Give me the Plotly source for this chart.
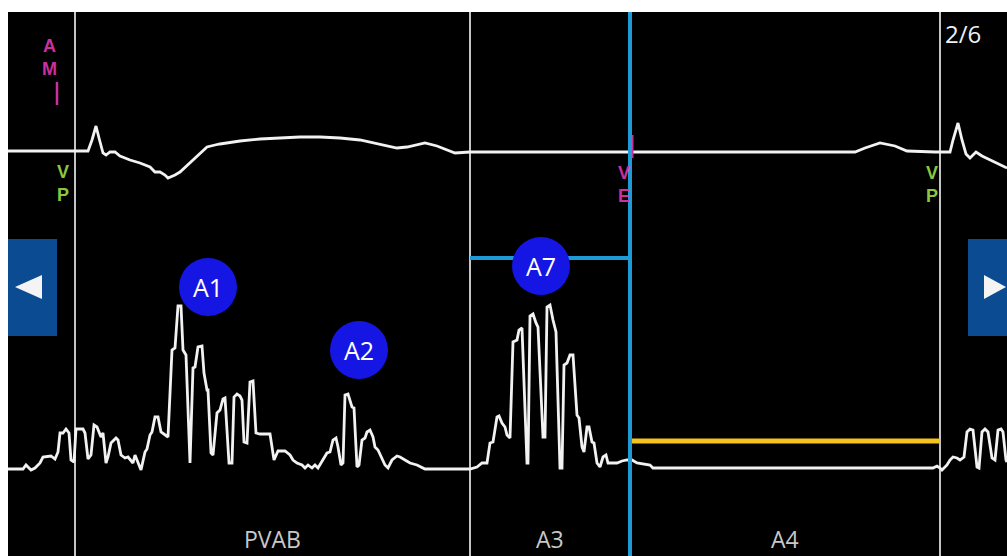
import plotly.graph_objects as go

# ---------------- data (time axis in screen-time units, amplitude in screen units, reversed axis) -------------
vent_time = [8, 75, 88, 92, 96, 99, 103, 106, 110, 115, 120, 130, 140, 150, 155, 160, 165, 168, 175, 180,
             190, 200, 207, 215, 220, 240, 260, 280, 300, 320, 340, 360, 380, 397, 407, 425, 437, 455, 470,
             630, 855, 865, 880, 895, 907, 935, 950, 953, 958, 962, 966, 970, 976, 982, 995, 1007]
vent_amp = [151, 151, 151, 140, 126, 138, 153, 155, 152, 152, 156, 160, 163, 167, 172, 172, 175, 178, 175, 172,
            163, 154, 147, 145, 144, 141, 139, 138, 137, 137, 138, 140, 144, 148, 147, 143, 146, 153, 152,
            152, 152, 148, 143, 146, 151, 152, 152, 140, 123, 140, 154, 158, 152, 156, 162, 168]

atrial_time = [8, 23, 26, 31, 35, 40, 43, 51, 55, 58, 60, 63, 66, 69, 71, 74, 76, 83, 85, 88, 91, 94, 97, 101,
               103, 106, 108, 111, 116, 118, 121, 125, 128, 133, 135, 138, 141, 145, 147, 150, 152, 155, 158,
               161, 165, 168, 172, 175, 178, 181, 183, 186, 190, 193, 195, 198, 202, 204, 207, 208, 211, 213,
               217, 220, 223, 225, 229, 232, 234, 237, 240, 242, 244, 247, 250, 253, 256, 260, 270, 274, 278,
               285, 290, 293, 297, 302, 305, 308, 312, 315, 318, 323, 327, 330, 333, 336, 338, 341, 343, 345,
               348, 352, 354, 357, 359, 362, 365, 367, 370, 373, 375, 378, 382, 385, 388, 392, 397, 400, 405,
               410, 417, 422, 425, 470, 477, 482, 487, 490, 493, 497, 499, 502, 505, 507, 510, 513, 517, 519,
               522, 527, 528, 530, 533, 536, 538, 543, 545, 547, 550, 553, 556, 560, 562, 564, 567, 570, 573,
               577, 579, 582, 584, 587, 589, 592, 594, 597, 600, 603, 606, 608, 612, 617, 622, 627, 632, 637,
               650, 653, 933, 937, 940, 942, 947, 950, 953, 957, 960, 964, 967, 970, 973, 977, 979, 982, 985,
               988, 992, 995, 998, 1001, 1003, 1006, 1007]
atrial_amp = [469, 469, 465, 470, 468, 463, 457, 456, 459, 452, 433, 433, 429, 433, 460, 462, 429, 429, 433, 459,
              455, 425, 427, 437, 433, 463, 457, 443, 438, 440, 455, 458, 457, 463, 455, 463, 470, 452, 449,
              435, 432, 417, 417, 432, 435, 437, 350, 348, 306, 306, 350, 355, 463, 368, 367, 347, 346, 373,
              390, 390, 453, 455, 413, 410, 399, 398, 463, 463, 397, 394, 396, 400, 442, 443, 382, 381, 433,
              434, 434, 460, 451, 451, 455, 460, 463, 465, 468, 465, 468, 465, 468, 460, 453, 452, 440, 438,
              447, 465, 463, 395, 394, 407, 408, 467, 465, 440, 438, 432, 430, 437, 447, 450, 458, 465, 468,
              460, 456, 457, 460, 463, 465, 467, 469, 469, 467, 463, 463, 443, 442, 417, 416, 423, 427, 435,
              438, 342, 340, 330, 328, 463, 463, 316, 314, 323, 327, 437, 437, 307, 305, 320, 332, 468, 468,
              365, 363, 355, 355, 415, 418, 447, 452, 427, 427, 442, 443, 463, 467, 457, 455, 463, 463, 463,
              461, 460, 460, 463, 465, 468, 468, 466, 468, 470, 465, 460, 457, 458, 460, 457, 432, 429, 430,
              467, 468, 432, 429, 432, 458, 460, 430, 429, 432, 460, 462]

interval_bounds = [75, 470, 940]          # grey vertical separators
event_time = 630                          # blue VE cursor
upper_bar = [470, 630, 258]               # blue horizontal bar: start, end, level
yellow_bar = [632, 940, 441]              # yellow interval bar: start, end, level

bubble_labels = ["A1", "A2", "A7"]
bubble_time = [208, 359, 541]
bubble_amp = [287, 350, 266]

interval_labels = ["PVAB", "A3", "A4"]
interval_label_time = [272, 550, 785]

marker_labels = ["A<br>M", "V<br>P", "V<br>E", "V<br>P"]
marker_time = [49, 63, 624, 932]
marker_amp = [57, 183, 184, 184]
marker_colors = ["#cc2f9e", "#8cc63e", "#cc2f9e", "#8cc63e"]

page_label = "2/6"

fig = go.Figure()

# grey separators
for xv in interval_bounds:
    fig.add_shape(type="line", x0=xv, x1=xv, y0=0, y1=1, xref="x", yref="paper",
                  line=dict(color="#c4c4c4", width=2), layer="below")

# blue & yellow bars
fig.add_shape(type="line", x0=upper_bar[0], x1=upper_bar[1], y0=upper_bar[2], y1=upper_bar[2],
              xref="x", yref="y", line=dict(color="#1e9bd7", width=4))
fig.add_shape(type="line", x0=yellow_bar[0], x1=yellow_bar[1], y0=yellow_bar[2], y1=yellow_bar[2],
              xref="x", yref="y", line=dict(color="#f6c21c", width=5))

# magenta tick marks
fig.add_shape(type="line", x0=57, x1=57, y0=82, y1=105, xref="x", yref="y",
              line=dict(color="#cc2f9e", width=2.5))
fig.add_shape(type="line", x0=632, x1=632, y0=135, y1=158, xref="x", yref="y",
              line=dict(color="#cc2f9e", width=3))

# traces
fig.add_trace(go.Scatter(x=vent_time, y=vent_amp, mode="lines",
                         line=dict(color="#f2f2f2", width=2.8), showlegend=False, hoverinfo="skip"))
fig.add_trace(go.Scatter(x=atrial_time, y=atrial_amp, mode="lines",
                         line=dict(color="#f2f2f2", width=2.8), showlegend=False, hoverinfo="skip"))

# blue VE cursor on top
fig.add_shape(type="line", x0=event_time, x1=event_time, y0=0, y1=1, xref="x", yref="paper",
              line=dict(color="#1e9bd7", width=4))

# navigation buttons
fig.add_shape(type="rect", x0=8, x1=57, y0=239, y1=336, xref="x", yref="y",
              fillcolor="#0b4b92", line=dict(width=0))
fig.add_shape(type="path", path="M 15 287 L 42 275 L 42 299 Z", xref="x", yref="y",
              fillcolor="#f4f4f4", line=dict(width=0))
fig.add_shape(type="rect", x0=968, x1=1010, y0=239, y1=336, xref="x", yref="y",
              fillcolor="#0b4b92", line=dict(width=0))
fig.add_shape(type="path", path="M 984 275 L 1006 287 L 984 299 Z", xref="x", yref="y",
              fillcolor="#f4f4f4", line=dict(width=0))

# bubbles
r = 29
for lab, bx, by in zip(bubble_labels, bubble_time, bubble_amp):
    fig.add_shape(type="circle", x0=bx - r, x1=bx + r, y0=by - r, y1=by + r, xref="x", yref="y",
                  fillcolor="#1616e4", line=dict(width=0))
    fig.add_annotation(x=bx, y=by, text=lab, showarrow=False, xref="x", yref="y",
                       font=dict(family="Open Sans", size=25, color="#ffffff"))

# interval labels
for lab, lx in zip(interval_labels, interval_label_time):
    fig.add_annotation(x=lx, y=539, text=lab, showarrow=False, xref="x", yref="y",
                       font=dict(family="Open Sans", size=23, color="#c8c8c8"))

# marker letters (stacked two-letter codes)
for lab, mx, my, mc in zip(marker_labels, marker_time, marker_amp, marker_colors):
    fig.add_annotation(x=mx, y=my, text="<b>" + lab + "</b>", showarrow=False, xref="x", yref="y",
                       font=dict(family="Liberation Sans", size=18, color=mc))

fig.add_annotation(x=963, y=33, text=page_label, showarrow=False, xref="x", yref="y",
                   font=dict(family="Open Sans", size=24, color="#f0f0f0"))

fig.update_layout(
    width=1007, height=556,
    margin=dict(l=8, r=0, t=12, b=0),
    paper_bgcolor="#ffffff", plot_bgcolor="#000000",
    xaxis=dict(range=[8, 1007], visible=False, fixedrange=True),
    yaxis=dict(range=[556, 12], visible=False, fixedrange=True),
    showlegend=False,
)

fig.write_html("out.html", config={"displayModeBar": False},
               post_script="document.body.style.margin='0';document.body.style.overflow='hidden';")
